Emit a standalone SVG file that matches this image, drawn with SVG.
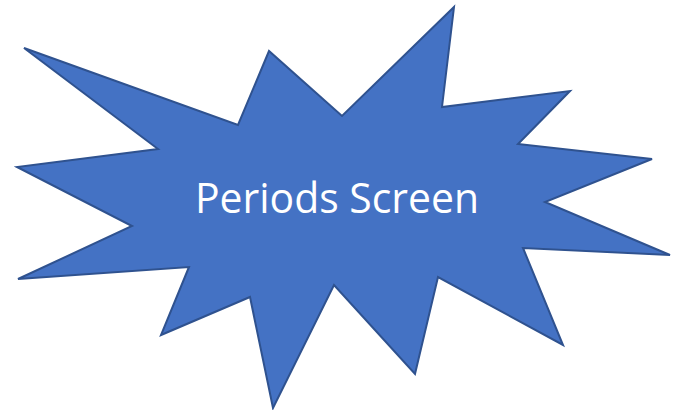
<svg xmlns="http://www.w3.org/2000/svg" width="687" height="410" viewBox="0 0 687 410">
<style>
.burst{fill:#4472C4;stroke:#2F528F;stroke-width:2;stroke-linejoin:miter}
.label{fill:#FFFFFF;font-family:"Open Sans","Liberation Sans",sans-serif;font-size:42px}
</style>
<rect width="687" height="410" fill="#FFFFFF"/>
<g id="periods-screen">
<polygon class="burst" points="24,48 238,125 269,51 342,116 454,7 442,107 570,91 518,144 652,159 545,202 670,255 523,248 563,345 438,277 415,374 334,285 273,408 250,297 161,335 189,267 18,279 132,226 17,167 158,149"/>
<text class="label" x="337" y="213" text-anchor="middle" textLength="284" lengthAdjust="spacingAndGlyphs">Periods Screen</text>
</g>
<g id="connectors"/>
</svg>
